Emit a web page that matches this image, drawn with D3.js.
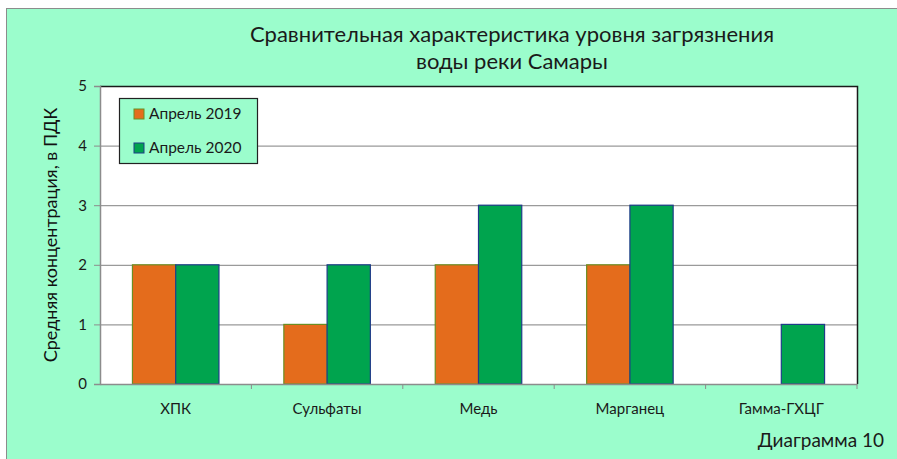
<!DOCTYPE html>
<html>
<head>
<meta charset="utf-8">
<script src="https://cdn.jsdelivr.net/npm/d3@7.9.0/dist/d3.min.js"></script>
<style>
  body { margin: 0; background: #fff; }
  svg { display: block; font-family: Lato, "Open Sans", sans-serif; }
</style>
</head>
<body>
<svg></svg>
<script>
const categories = ["ХПК", "Сульфаты", "Медь", "Марганец", "Гамма-ГХЦГ"];
const series = ["Апрель 2019", "Апрель 2020"];
const values2019 = [2, 1, 2, 2, 0];
const values2020 = [2, 2, 3, 3, 1];
const yTicks = [0, 1, 2, 3, 4, 5];

const colors = { "Апрель 2019": "#e46c1c", "Апрель 2020": "#00a44e" };
const strokes = { "Апрель 2019": "#6b8e23", "Апрель 2020": "#1f3c88" };

const width = 897;
const height = 459;
const margin = { top: 86, right: 40, bottom: 75, left: 100 };

const svg = d3.select("svg")
    .attr("width", width)
    .attr("height", height);

// mint frame of the chart
svg.append("rect")
    .attr("x", 6.5).attr("y", 8.5)
    .attr("width", width).attr("height", height)
    .attr("fill", "#9bfdcc")
    .attr("stroke", "#8c8c8c");

const x = d3.scaleBand()
    .domain(categories)
    .range([margin.left, width - margin.right]);

const x1 = d3.scaleBand()
    .domain(series)
    .range([0, x.bandwidth()])
    .paddingOuter(0.75);

const y = d3.scaleLinear()
    .domain([0, 5])
    .range([height - margin.bottom, margin.top]);

// plot area
svg.append("rect")
    .attr("x", margin.left).attr("y", margin.top)
    .attr("width", width - margin.left - margin.right)
    .attr("height", y(0) - margin.top)
    .attr("fill", "#fff");

// grid lines
svg.append("g")
    .selectAll("line")
    .data(yTicks.slice(1))
    .enter().append("line")
    .attr("x1", margin.left)
    .attr("x2", width - margin.right)
    .attr("y1", d => y(d) + 0.5)
    .attr("y2", d => y(d) + 0.5)
    .attr("stroke", "#9a9a9a")
    .attr("stroke-width", 1.2);

// plot border top/right
svg.append("path")
    .attr("d", `M${margin.left},${margin.top + 0.5}H${width - margin.right + 0.5}V${y(0)}`)
    .attr("fill", "none")
    .attr("stroke", "#1a1a1a")
    .attr("stroke-width", 1.5);

const rows = categories.map((c, i) => ({
    cat: c,
    vals: [
        { key: series[0], v: values2019[i] },
        { key: series[1], v: values2020[i] }
    ]
}));

svg.append("g")
    .selectAll("g")
    .data(rows)
    .enter().append("g")
    .attr("transform", d => `translate(${x(d.cat)},0)`)
    .selectAll("rect")
    .data(d => d.vals.filter(e => e.v > 0))
    .enter().append("rect")
    .attr("x", d => x1(d.key))
    .attr("y", d => y(d.v))
    .attr("width", x1.bandwidth())
    .attr("height", d => y(0) - y(d.v))
    .attr("fill", d => colors[d.key])
    .attr("stroke", d => strokes[d.key])
    .attr("stroke-width", 1.2);

// y axis
const yAxis = svg.append("g")
    .attr("transform", `translate(${margin.left},0)`)
    .call(d3.axisLeft(y).tickValues(yTicks).tickSize(6).tickFormat(d3.format("d")));
yAxis.select(".domain").attr("stroke", "#8c8c8c").attr("stroke-width", 1.5);
yAxis.selectAll(".tick line").attr("stroke", "#8c8c8c");
yAxis.selectAll("text")
    .attr("font-size", 15)
    .attr("font-family", "Lato, sans-serif")
    .attr("fill", "#1a1a1a")
    .attr("x", -13);

// x axis
const xAxis = svg.append("g")
    .attr("transform", `translate(0,${y(0)})`)
    .call(d3.axisBottom(x).tickSize(0).tickPadding(19));
xAxis.select(".domain").attr("stroke", "#8c8c8c").attr("stroke-width", 1.5);
xAxis.selectAll("text")
    .attr("font-size", 15)
    .attr("font-family", "Lato, sans-serif")
    .attr("fill", "#1a1a1a");
// ticks between categories
xAxis.selectAll(".sep")
    .data(categories)
    .enter().append("line")
    .attr("class", "sep")
    .attr("x1", d => x(d) + x.bandwidth())
    .attr("x2", d => x(d) + x.bandwidth())
    .attr("y1", 0).attr("y2", 5)
    .attr("stroke", "#8c8c8c");

// title
const title = svg.append("text")
    .attr("x", 512)
    .attr("y", 42)
    .attr("text-anchor", "middle")
    .attr("font-size", 22)
    .attr("fill", "#1a1a1a");
title.append("tspan").attr("x", 512).text("Сравнительная характеристика уровня загрязнения");
title.append("tspan").attr("x", 512).attr("dy", 27).text("воды реки Самары");

// y axis title
svg.append("text")
    .attr("transform", `translate(57,${(margin.top + y(0)) / 2}) rotate(-90)`)
    .attr("text-anchor", "middle")
    .attr("font-size", 18)
    .attr("fill", "#111")
    .text("Средняя концентрация, в ПДК");

// legend
const legend = svg.append("g").attr("transform", "translate(119,98)");
legend.append("rect")
    .attr("x", 0.5).attr("y", 0.5)
    .attr("width", 138).attr("height", 65)
    .attr("fill", "#9bfdcc")
    .attr("stroke", "#222")
    .attr("stroke-width", 1.2);
const items = legend.selectAll(".item")
    .data(series)
    .enter().append("g")
    .attr("class", "item")
    .attr("transform", (d, i) => `translate(15,${11 + i * 34})`);
items.append("rect")
    .attr("width", 10).attr("height", 10)
    .attr("fill", d => colors[d])
    .attr("stroke", d => strokes[d]);
items.append("text")
    .attr("x", 15).attr("y", 10)
    .attr("font-size", 15.5)
    .attr("fill", "#1a1a1a")
    .text(d => d);

// caption
svg.append("text")
    .attr("x", 884)
    .attr("y", 447)
    .attr("text-anchor", "end")
    .attr("font-size", 19)
    .attr("fill", "#1a1a1a")
    .text("Диаграмма 10");
</script>
</body>
</html>
